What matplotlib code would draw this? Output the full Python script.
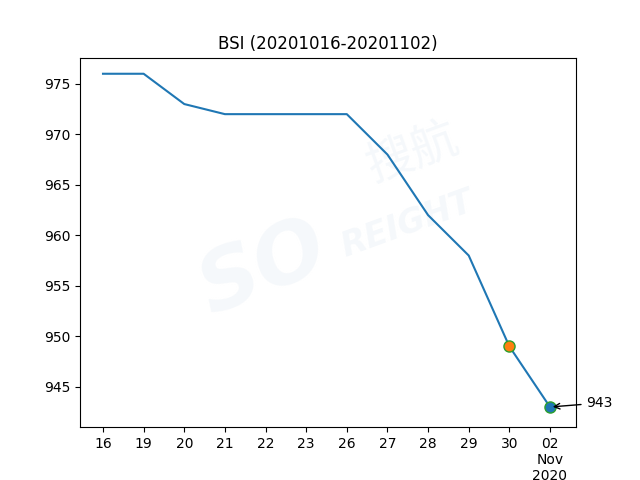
import matplotlib
matplotlib.use("Agg")
import matplotlib.pyplot as plt

plt.rcParams['font.family'] = ['DejaVu Sans', 'Noto Sans CJK SC']

dates = ['16', '19', '20', '21', '22', '23', '26', '27', '28', '29', '30', '02\nNov\n2020']
bsi = [976, 976, 973, 972, 972, 972, 972, 968, 962, 958, 949, 943]


def main():
    fig, ax = plt.subplots(figsize=(6.4, 4.8), dpi=100)
    x = list(range(len(dates)))

    # faint watermark
    wm = '#f5f8fb'
    ax.text(0.37, 0.43, 'SO', transform=ax.transAxes, fontsize=60, fontweight='bold',
            fontstyle='italic', color=wm, rotation=22, ha='center', va='center', zorder=0)
    ax.text(0.67, 0.74, '搜航', transform=ax.transAxes, fontsize=34, color=wm,
            rotation=20, ha='center', va='center', zorder=0,
            family=['Noto Sans CJK SC', 'DejaVu Sans'])
    ax.text(0.66, 0.55, 'REIGHT', transform=ax.transAxes, fontsize=24, fontweight='bold',
            fontstyle='italic', color=wm, rotation=20, ha='center', va='center', zorder=0)

    ax.plot(x, bsi, color='C0')
    ax.plot(x[-2], bsi[-2], 'o', markersize=8, markerfacecolor='C1', markeredgecolor='C2')
    ax.plot(x[-1], bsi[-1], 'o', markersize=8, markerfacecolor='C0', markeredgecolor='C2')
    ax.annotate(str(bsi[-1]), xy=(x[-1], bsi[-1]), xytext=(x[-1] + 0.9, bsi[-1]),
                arrowprops=dict(arrowstyle='->', color='black'), fontsize=10,
                annotation_clip=False)

    ax.set_xlim(-0.566, len(dates) - 1 + 0.64)
    ax.set_ylim(941.0, 977.6)
    ax.set_xticks(x)
    ax.set_xticklabels(dates)
    ax.set_title('BSI (20201016-20201102)')
    fig.savefig('out.png')


if __name__ == "__main__":
    main()
